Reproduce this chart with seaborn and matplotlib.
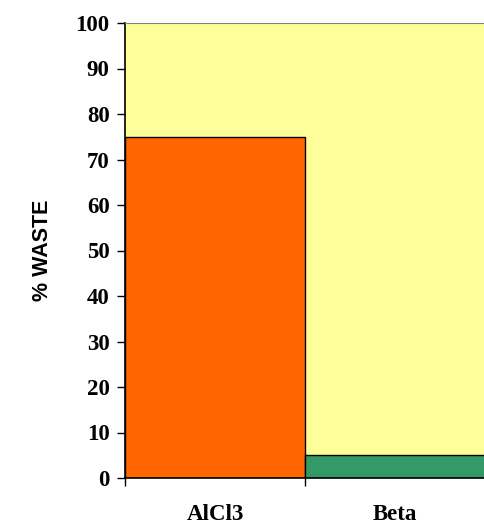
import pandas as pd
import matplotlib.pyplot as plt
import seaborn as sns

categories = ['AlCl3', 'Beta']
waste = [75, 5]
bar_colors = ['#FF6600', '#339966']

df = pd.DataFrame({'catalyst': categories, 'waste': waste})

fig = plt.figure(figsize=(4.84, 5.24), dpi=100)
ax = fig.add_axes([125 / 484, 46 / 524, 360 / 484, 455 / 524])
ax.set_facecolor('#FFFF99')

sns.barplot(data=df, x='catalyst', y='waste', hue='catalyst', palette=bar_colors,
            saturation=1, width=1.0, edgecolor='black', linewidth=1, legend=False, ax=ax)

ax.set_xlim(-0.5, 1.5)
ax.set_ylim(0, 100)
ax.set_yticks(range(0, 101, 10))

tick_font = {'family': 'Liberation Serif', 'weight': 'bold', 'size': 16.5}
ax.set_yticklabels([str(v) for v in range(0, 101, 10)], fontdict=tick_font)
ax.set_xticks([0, 1])
ax.set_xticklabels(categories, fontdict=tick_font)
ax.set_xticks([-0.5, 0.5, 1.5], minor=True)
ax.tick_params(axis='x', which='major', length=0, pad=18.5)
ax.tick_params(axis='x', which='minor', length=6, width=1, direction='out')
ax.tick_params(axis='y', length=6, width=1, direction='out', pad=5)

ax.set_xlabel('')
ax.set_ylabel('% WASTE', fontdict={'family': 'Liberation Sans', 'weight': 'bold', 'size': 15.5},
              labelpad=16)

for side in ['left', 'bottom']:
    ax.spines[side].set_color('black')
    ax.spines[side].set_linewidth(1.2)
ax.spines['top'].set_color('#808080')
ax.spines['right'].set_visible(False)

fig.savefig('out.png', dpi=100)
